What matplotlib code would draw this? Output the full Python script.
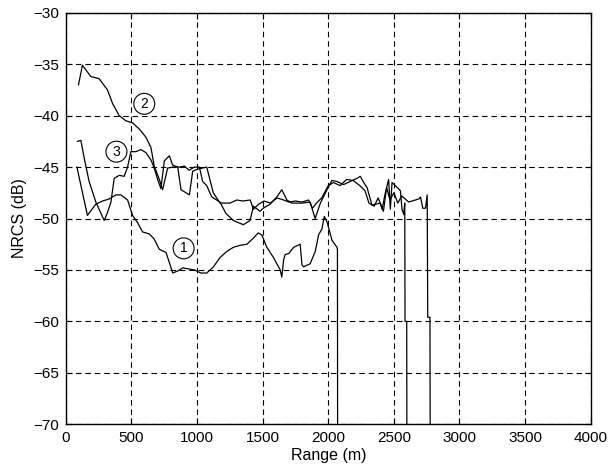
import matplotlib
matplotlib.use("Agg")
import matplotlib.pyplot as plt

# curve 1 (lowest)
range1 = [85, 165, 229, 280, 331, 382, 420, 471, 509, 547, 585, 636, 674, 713, 764, 815,
          853, 891, 935, 980, 1030, 1074, 1125, 1175, 1227, 1277, 1330, 1380, 1430, 1466,
          1494, 1532, 1583, 1634, 1646, 1660, 1672, 1700, 1736, 1786, 1800, 1812, 1862,
          1901, 1926, 1952, 1970, 1990, 2028, 2066, 2070, 2072]
nrcs1 = [-45.0, -49.7, -48.6, -48.3, -48.1, -47.7, -47.7, -48.2, -49.7, -50.4, -51.3, -51.5,
         -52.0, -53.0, -53.3, -55.3, -55.1, -54.8, -54.9, -55.0, -55.3, -55.3, -54.7, -53.8,
         -53.2, -52.8, -52.6, -52.5, -51.9, -51.4, -51.6, -52.8, -53.8, -55.0, -55.7, -54.0,
         -53.5, -53.4, -52.8, -52.5, -54.5, -54.7, -54.4, -53.2, -51.6, -51.0, -49.8, -50.3,
         -52.1, -52.8, -53.0, -80.0]

# curve 2 (highest at start)
range2 = [97, 127, 191, 254, 318, 356, 407, 458, 509, 560, 611, 649, 674, 713, 738, 776,
          815, 865, 903, 940, 980, 1018, 1043, 1074, 1112, 1175, 1220, 1277, 1353, 1404,
          1430, 1480, 1505, 1557, 1608, 1646, 1685, 1723, 1800, 1862, 1900, 1940, 1990,
          2028, 2066, 2117, 2167, 2218, 2244, 2270, 2296, 2333, 2397, 2410, 2435, 2460,
          2473, 2486, 2511, 2550, 2562, 2575, 2583, 2585, 2598, 2600]
nrcs2 = [-37.0, -35.1, -36.2, -36.4, -37.5, -38.8, -40.0, -40.5, -40.7, -41.3, -42.1, -43.1,
         -44.9, -46.2, -47.2, -45.1, -45.0, -45.0, -44.9, -45.3, -45.0, -45.0, -46.4, -46.8,
         -47.9, -48.4, -49.5, -50.2, -50.6, -50.2, -48.8, -49.3, -49.0, -48.6, -47.9, -47.2,
         -48.2, -48.5, -48.5, -48.4, -50.0, -48.5, -47.2, -46.3, -46.4, -46.7, -46.4, -46.1,
         -45.9, -46.5, -47.0, -48.7, -48.5, -49.1, -47.5, -46.2, -49.1, -46.5, -46.8, -47.3,
         -49.1, -49.6, -48.5, -60.0, -60.0, -80.0]

# curve 3
range3 = [89, 115, 140, 178, 229, 293, 318, 344, 369, 407, 445, 471, 496, 534, 573, 611,
          649, 674, 700, 725, 751, 789, 814, 853, 878, 942, 967, 1005, 1074, 1124, 1176,
          1252, 1303, 1350, 1405, 1430, 1470, 1510, 1560, 1610, 1660, 1700, 1750, 1800,
          1850, 1880, 1910, 1950, 2000, 2040, 2090, 2140, 2190, 2240, 2280, 2310, 2350,
          2380, 2420, 2445, 2470, 2500, 2530, 2560, 2613, 2664, 2690, 2703, 2720, 2741,
          2754, 2758, 2775, 2778]
nrcs3 = [-42.5, -42.4, -44.1, -46.4, -48.4, -50.2, -49.4, -48.4, -46.1, -45.8, -45.9, -45.0,
         -43.5, -43.5, -43.3, -43.6, -44.3, -45.1, -46.2, -47.1, -44.4, -43.9, -44.8, -45.0,
         -47.2, -47.7, -45.4, -45.2, -45.0, -47.5, -48.5, -48.5, -48.2, -48.3, -48.2, -49.1,
         -48.6, -48.3, -48.5, -48.0, -48.2, -48.4, -48.3, -48.4, -48.2, -49.0, -48.5, -48.0,
         -46.8, -46.5, -46.8, -46.2, -46.3, -46.8, -47.3, -48.5, -48.8, -48.0, -49.3, -47.0,
         -48.2, -47.5, -48.5, -47.8, -48.4, -48.2, -48.1, -47.9, -49.0, -49.0, -47.7, -59.6,
         -59.6, -80.0]

labels = ["1", "2", "3"]
label_x = [898, 598, 386]
label_y = [-52.9, -38.85, -43.5]

plt.rcParams['font.family'] = ['Liberation Sans', 'DejaVu Sans']

fig = plt.figure(figsize=(6.09, 4.74), dpi=100)
ax = fig.add_axes([0.108, 0.105, 0.862, 0.868])

for xs, ys in [(range1, nrcs1), (range2, nrcs2), (range3, nrcs3)]:
    ax.plot(xs, ys, color='black', lw=0.9)

for t, x, y in zip(labels, label_x, label_y):
    ax.text(x, y, t, fontsize=10, ha='center', va='center',
            bbox=dict(boxstyle='circle,pad=0.25', fc='white', ec='black', lw=0.8))

ax.set_xlim(0, 4000)
ax.set_ylim(-70, -30)
ax.set_xticks(range(0, 4001, 500))
ax.set_yticks(range(-70, -29, 5))
ax.grid(True, color='black', linestyle=(0, (5, 3.5)), lw=0.8)
ax.tick_params(direction='in', length=4, top=True, right=True, labelsize=11, pad=5)
for s in ax.spines.values():
    s.set_linewidth(1.0)
ax.set_xlabel('Range (m)', fontsize=11.5, labelpad=2)
ax.set_ylabel('NRCS (dB)', fontsize=11.5, labelpad=4)

fig.savefig('out.png', dpi=100)
